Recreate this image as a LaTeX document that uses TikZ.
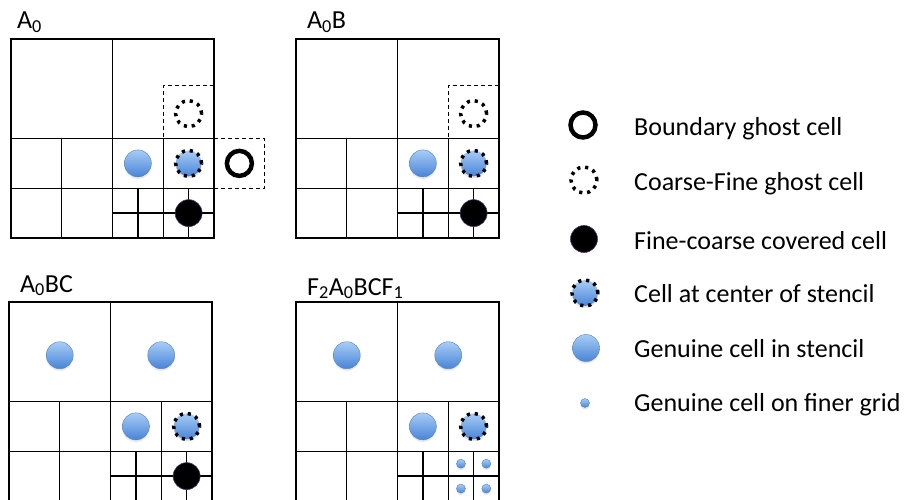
\documentclass[tikz,border=0pt]{standalone}
\usepackage{fontspec}
\setmainfont{Carlito}
\usetikzlibrary{shadows}

\definecolor{celltop}{RGB}{168,204,246}
\definecolor{cellbot}{RGB}{72,132,214}
\definecolor{celledge}{RGB}{80,128,200}
\definecolor{coveredge}{RGB}{84,52,112}

\begin{document}
\begin{tikzpicture}[
  x=1pt, y=-1pt,
  every node/.style={inner sep=0pt, font=\fontsize{26}{30}\selectfont},
  gridline/.style={line width=1.3pt},
  ghostbox/.style={line width=0.9pt, dash pattern=on 4pt off 3pt},
  genuine/.style={circle, minimum size=27pt, draw=celledge, line width=0.4pt,
    top color=celltop, bottom color=cellbot,
    drop shadow={opacity=0.2, shadow xshift=0pt, shadow yshift=-2pt}},
  finer/.style={genuine, minimum size=9pt},
  centre/.style={genuine, minimum size=26pt, draw=black, line width=3.5pt,
    dash pattern=on 3.2pt off 4.8pt},
  cfghost/.style={circle, minimum size=26pt, draw=black, fill=white, line width=3.5pt,
    dash pattern=on 3.2pt off 4.8pt},
  bdghost/.style={circle, minimum size=25pt, draw=black, line width=4.5pt},
  covered/.style={circle, minimum size=27pt, fill=black, draw=coveredge, line width=0.6pt},
]
  \useasboundingbox (0,0) rectangle (911,500);

  \foreach \ox/\oy in {11/39, 296/39, 9/302, 296/302}
    \draw[gridline, shift={(\ox,\oy)}, x=50.75pt, y=-49.75pt]
      (0,0) rectangle (4,4) (2,0) -- (2,4) (0,2) -- (4,2) (0,3) -- (4,3)
      (1,2) -- (1,4) (3,2) -- (3,4)
      (2.5,3) -- (2.5,4) (3.5,3) -- (3.5,4) (2,3.5) -- (4,3.5);

  % A_0
  \node[anchor=base west] (lbl-a) at (17,29) {A\textsubscript{0}};
  \begin{scope}[shift={(11,39)}, x=50.75pt, y=-49.75pt]
    \draw[ghostbox] (4,0.93) -- (3,0.93) -- (3,2);
    \draw[ghostbox] (4,2) -- (5,2) -- (5,3) -- (4,3);
    \node[cfghost] (a-cf) at (3.5,1.5) {};
    \node[genuine] (a-gen) at (2.5,2.5) {};
    \node[centre] (a-ctr) at (3.5,2.5) {};
    \node[bdghost] (a-bd) at (4.5,2.5) {};
    \node[covered] (a-cov) at (3.5,3.5) {};
  \end{scope}

  % A_0 B
  \node[anchor=base west] (lbl-ab) at (307,29) {A\textsubscript{0}B};
  \begin{scope}[shift={(296,39)}, x=50.75pt, y=-49.75pt]
    \draw[ghostbox] (4,0.93) -- (3,0.93) -- (3,2);
    \node[cfghost] (ab-cf) at (3.5,1.5) {};
    \node[genuine] (ab-gen) at (2.5,2.5) {};
    \node[centre] (ab-ctr) at (3.5,2.5) {};
    \node[covered] (ab-cov) at (3.5,3.5) {};
  \end{scope}

  % A_0 BC
  \node[anchor=base west] (lbl-abc) at (20,292) {A\textsubscript{0}BC};
  \begin{scope}[shift={(9,302)}, x=50.75pt, y=-49.75pt]
    \node[genuine] (abc-gen1) at (1,1.07) {};
    \node[genuine] (abc-gen2) at (3,1.07) {};
    \node[genuine] (abc-gen3) at (2.5,2.5) {};
    \node[centre] (abc-ctr) at (3.5,2.5) {};
    \node[covered] (abc-cov) at (3.5,3.5) {};
  \end{scope}

  % F_2 A_0 BC F_1
  \node[anchor=base west] (lbl-fabcf) at (307,295) {F\textsubscript{2}A\textsubscript{0}BCF\textsubscript{1}};
  \begin{scope}[shift={(296,302)}, x=50.75pt, y=-49.75pt]
    \node[genuine] (fabcf-gen1) at (1,1.07) {};
    \node[genuine] (fabcf-gen2) at (3,1.07) {};
    \node[genuine] (fabcf-gen3) at (2.5,2.5) {};
    \node[centre] (fabcf-ctr) at (3.5,2.5) {};
    \node[finer] (fabcf-f1) at (3.25,3.25) {};
    \node[finer] (fabcf-f2) at (3.75,3.25) {};
    \node[finer] (fabcf-f3) at (3.25,3.75) {};
    \node[finer] (fabcf-f4) at (3.75,3.75) {};
  \end{scope}

  % legend
  \node[bdghost] (key-bd) at (583,125) {};
  \node[anchor=base west] (txt-bd) at (634,136) {Boundary ghost cell};
  \node[cfghost] (key-cf) at (584,180) {};
  \node[anchor=base west] (txt-cf) at (634,191) {Coarse-Fine ghost cell};
  \node[covered] (key-cov) at (584,239) {};
  \node[anchor=base west] (txt-cov) at (634,249) {Fine-coarse covered cell};
  \node[centre] (key-ctr) at (585,293) {};
  \node[anchor=base west] (txt-ctr) at (634,302) {Cell at center of stencil};
  \node[genuine] (key-gen) at (586,348) {};
  \node[anchor=base west] (txt-gen) at (634,357) {Genuine cell in stencil};
  \node[finer] (key-fin) at (585,403) {};
  \node[anchor=base west] (txt-fin) at (634,411) {Genuine cell on finer grid};
\end{tikzpicture}
\end{document}
